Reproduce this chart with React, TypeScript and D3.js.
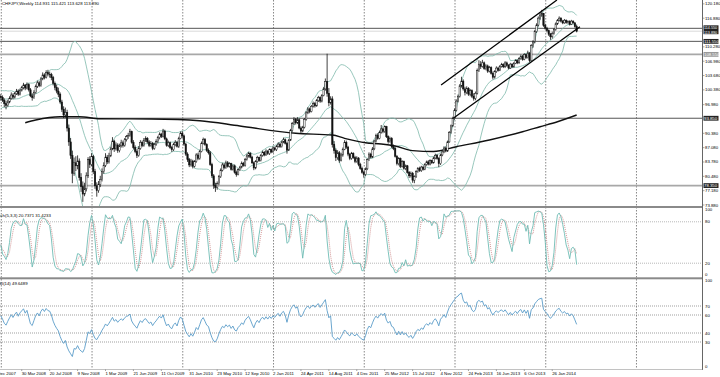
import React from 'react';
import * as d3 from 'd3';

const W = 720;
const H = 377;

// ---------- DATA (CHFJPY weekly) ----------
const symbolTitle = 'CHFJPY,Weekly  114.931 115.421 113.628 113.890';
const stochTitle = 'Stoch(5,3,3) 20.7371 31.4233';
const rsiTitle = 'RSI(14) 49.6489';
const firstBarDate = '2008-01-06';

// closes before the first visible bar (needed to warm up Bollinger / RSI)
const priorCloses = [96.0, 96.8, 97.3, 96.5, 97.8, 98.9, 99.6, 100.2, 99.4, 98.7, 97.4, 96.9, 97.6, 98.3, 97.9, 98.8, 99.2, 98.5, 98.9];
const firstOpen = 98.9;

const closes = [
  98.6, 98.0, 97.2, 96.8, 97.6, 98.4, 99.2, 98.7, 99.5, 100.1,
  99.4, 100.3, 100.9, 101.5, 100.8, 101.6, 100.4, 99.0, 98.6, 99.8,
  101.2, 102.0, 101.4, 102.9, 103.8, 103.3, 104.4, 104.0, 103.9, 103.2,
  101.9, 100.9, 100.1, 99.4, 97.6, 95.9, 94.6, 95.2, 91.6, 88.4,
  85.3, 81.2, 83.6, 82.9, 84.0, 80.2, 78.1, 76.4, 77.6, 80.6,
  84.3, 83.2, 85.0, 81.6, 78.3, 77.2, 78.6, 79.8, 81.6, 83.0,
  84.9, 83.8, 85.2, 86.8, 88.6, 86.8, 87.7, 86.4, 87.5, 88.2,
  87.6, 88.9, 89.6, 89.9, 90.8, 88.3, 87.1, 86.2, 85.3, 86.9,
  88.3, 87.6, 88.8, 89.2, 88.4, 87.6, 88.1, 86.9, 87.8, 88.5,
  89.4, 90.2, 89.7, 90.9, 89.1, 87.6, 88.2, 87.1, 86.6, 87.8,
  88.3, 87.4, 89.2, 90.4, 89.8, 87.9, 85.6, 84.3, 83.1, 84.0,
  82.8, 83.9, 85.4, 84.6, 86.2, 88.1, 89.0, 87.8, 86.4, 85.9,
  83.2, 80.6, 78.4, 77.9, 78.8, 80.4, 81.9, 83.1, 82.5, 83.6,
  82.8, 83.4, 82.1, 82.9, 81.4, 80.9, 82.0, 82.6, 83.5, 83.0,
  84.4, 85.2, 85.8, 84.9, 83.6, 82.4, 83.9, 84.8, 84.1, 85.3,
  86.0, 85.4, 86.3, 85.7, 86.6, 86.1, 87.0, 86.6, 87.4, 87.9,
  87.3, 88.4, 88.9, 88.1, 86.5, 88.8, 91.0, 92.6, 93.6, 92.8,
  93.5, 91.6, 90.9, 91.8, 93.6, 95.1, 96.0, 95.4, 96.6, 97.2,
  96.7, 97.9, 98.6, 97.8, 99.1, 100.6, 102.3, 99.6, 97.4, 98.3,
  87.8, 86.4, 84.8, 85.9, 84.2, 85.4, 86.7, 88.3, 87.2, 85.6,
  84.6, 85.8, 84.8, 83.9, 84.7, 83.2, 82.3, 81.4, 80.9, 82.2,
  84.3, 85.6, 84.9, 86.8, 88.6, 89.9, 89.2, 90.6, 91.4, 90.8,
  91.9, 89.6, 88.5, 89.2, 87.3, 86.9, 85.1, 83.4, 84.6, 82.8,
  83.9, 82.3, 82.9, 81.4, 80.6, 81.2, 79.6, 80.4, 81.6, 82.3,
  81.8, 82.6, 82.1, 83.2, 83.8, 83.3, 84.1, 83.6, 84.7, 85.3,
  84.6, 83.4, 85.4, 86.1, 87.0, 86.3, 88.4, 90.6, 92.1, 93.8,
  95.7, 97.8, 98.9, 101.3, 102.4, 100.6, 99.8, 100.7, 99.4, 100.2,
  98.9, 98.4, 99.6, 104.8, 106.3, 105.8, 106.6, 105.3, 105.9, 104.7,
  105.5, 104.2, 103.3, 104.6, 105.4, 104.9, 105.8, 106.2, 105.7, 106.6,
  106.0, 105.4, 106.3, 105.7, 106.5, 107.1, 106.6, 107.6, 108.1, 107.4,
  108.5, 107.8, 108.9, 107.1, 110.6, 111.4, 113.8, 115.3, 116.9, 117.6,
  118.0, 115.2, 114.6, 114.0, 113.2, 112.6, 113.4, 114.3, 115.6, 116.4,
  116.9, 116.2, 115.8, 116.4, 115.9, 116.1, 115.5, 116.2, 115.8, 114.931, 113.89,
];

const highs = [
  99.4, 99.1, 98.4, 97.9, 98.1, 98.9, 99.8, 99.6, 99.9, 100.6,
  100.5, 100.7, 101.3, 102.0, 101.7, 102.1, 101.9, 100.8, 99.6, 100.3,
  101.6, 102.5, 102.4, 103.3, 104.4, 104.2, 104.9, 105.0, 104.6, 104.3,
  103.6, 102.3, 101.6, 100.9, 99.8, 98.1, 96.6, 96.3, 95.8, 92.4,
  89.3, 86.4, 84.8, 85.1, 85.3, 84.6, 81.2, 79.3, 79.0, 81.4,
  84.9, 85.1, 85.8, 85.4, 82.2, 79.1, 79.4, 80.6, 82.3, 83.7,
  85.8, 85.4, 85.9, 87.3, 89.5, 88.9, 88.3, 88.1, 88.0, 88.9,
  88.7, 89.3, 90.0, 90.5, 91.4, 91.0, 88.8, 87.6, 86.7, 87.4,
  88.8, 88.7, 89.3, 89.7, 89.5, 88.8, 88.6, 88.4, 88.2, 89.0,
  89.8, 90.6, 90.5, 91.4, 91.2, 89.4, 88.7, 88.5, 87.5, 88.2,
  88.8, 88.6, 89.6, 90.8, 90.9, 90.1, 88.2, 86.0, 84.7, 84.5,
  84.3, 84.2, 85.8, 85.9, 86.6, 88.5, 89.4, 89.3, 88.1, 86.9,
  86.3, 83.6, 81.0, 79.0, 79.3, 80.8, 82.3, 83.6, 83.5, 84.1,
  84.0, 83.7, 83.6, 83.2, 83.2, 81.8, 82.3, 82.9, 83.9, 83.8,
  84.7, 85.6, 86.1, 86.0, 85.2, 83.9, 84.2, 85.2, 85.0, 85.6,
  86.4, 86.3, 86.7, 86.5, 86.9, 86.9, 87.4, 87.3, 87.7, 88.3,
  88.2, 88.7, 89.4, 89.2, 88.4, 89.1, 91.4, 93.0, 94.1, 93.9,
  94.1, 93.8, 92.0, 92.1, 93.9, 95.5, 96.4, 96.3, 96.9, 97.7,
  97.6, 98.3, 99.0, 98.9, 99.4, 101.0, 103.0, 108.7, 100.8, 98.9,
  98.9, 88.6, 86.9, 86.5, 86.3, 85.9, 87.1, 88.8, 88.7, 87.5,
  85.9, 86.1, 86.0, 85.2, 85.1, 84.9, 83.6, 82.7, 81.8, 82.5,
  84.6, 86.0, 85.9, 87.2, 88.9, 90.3, 90.4, 91.0, 92.3, 91.7,
  92.2, 92.1, 89.9, 89.6, 89.5, 87.8, 87.2, 85.4, 84.9, 84.8,
  84.2, 84.1, 83.2, 83.1, 81.7, 81.6, 81.5, 80.7, 81.9, 82.6,
  82.7, 82.9, 82.9, 83.5, 84.1, 84.2, 84.4, 84.3, 85.0, 85.7,
  85.6, 84.9, 85.7, 86.4, 87.4, 87.3, 88.7, 90.9, 92.4, 94.2,
  96.1, 98.2, 99.3, 101.7, 103.4, 102.8, 101.1, 101.2, 101.0, 100.6,
  100.5, 99.6, 100.0, 105.3, 107.2, 107.0, 107.3, 106.9, 106.3, 106.2,
  105.9, 105.8, 104.6, 104.9, 105.8, 105.7, 106.1, 106.6, 106.5, 107.0,
  106.9, 106.3, 106.6, 106.5, 106.8, 107.4, 107.4, 107.9, 108.5, 108.4,
  108.8, 108.7, 109.4, 109.0, 110.9, 111.8, 114.2, 115.7, 117.3, 118.3,
  118.8, 118.1, 115.6, 114.9, 114.3, 113.5, 113.8, 114.6, 115.9, 116.7,
  117.3, 117.1, 116.5, 116.7, 116.6, 116.4, 116.4, 116.5, 116.4, 116.0, 115.421,
];

const lows = [
  97.9, 97.6, 96.4, 95.9, 96.5, 97.3, 98.1, 98.2, 98.4, 99.2,
  99.0, 99.1, 100.0, 100.5, 100.3, 100.5, 100.0, 98.7, 97.9, 98.3,
  99.5, 100.8, 101.0, 101.1, 102.6, 102.8, 103.0, 103.5, 103.2, 102.6,
  101.4, 100.3, 99.6, 98.7, 97.2, 95.3, 93.9, 94.0, 90.8, 87.5,
  84.5, 78.9, 80.6, 81.7, 82.1, 79.5, 76.9, 74.6, 75.9, 77.0,
  80.1, 82.4, 82.8, 81.0, 77.6, 75.8, 76.7, 78.0, 79.3, 81.1,
  82.6, 83.3, 83.4, 84.9, 86.5, 86.1, 86.4, 85.9, 86.0, 87.1,
  87.1, 87.3, 88.5, 89.1, 89.6, 88.0, 86.7, 85.8, 84.7, 85.0,
  86.6, 87.2, 87.3, 88.4, 88.0, 87.2, 87.3, 86.5, 86.6, 87.5,
  88.1, 89.0, 89.3, 89.4, 88.8, 87.3, 87.2, 86.8, 86.1, 86.3,
  87.4, 87.1, 87.0, 89.0, 89.3, 87.5, 85.2, 83.8, 82.6, 82.7,
  82.3, 82.5, 83.6, 84.2, 84.3, 86.0, 87.8, 87.5, 86.1, 85.5,
  82.9, 80.1, 77.6, 76.9, 77.4, 78.5, 80.1, 81.6, 82.1, 82.2,
  82.5, 82.5, 81.8, 81.8, 81.1, 80.4, 80.7, 81.7, 82.3, 82.7,
  82.7, 84.1, 84.8, 84.6, 83.3, 81.9, 82.1, 83.6, 83.8, 83.9,
  85.0, 85.1, 85.2, 85.4, 85.4, 85.8, 85.9, 86.3, 86.3, 87.1,
  87.0, 87.1, 88.1, 87.8, 85.7, 86.3, 88.6, 90.7, 92.3, 92.4,
  92.5, 91.3, 90.3, 90.6, 91.5, 93.3, 94.8, 95.0, 95.2, 96.3,
  96.3, 96.5, 97.6, 97.4, 97.5, 98.9, 100.2, 98.8, 96.6, 97.0,
  87.1, 85.7, 84.0, 84.3, 83.6, 83.9, 85.0, 86.5, 86.8, 85.1,
  84.2, 84.3, 84.5, 83.5, 83.6, 82.8, 82.0, 81.1, 80.2, 80.6,
  81.9, 84.0, 84.6, 84.7, 86.5, 88.3, 88.9, 89.0, 90.3, 90.4,
  90.5, 89.3, 88.0, 88.2, 87.0, 86.5, 84.8, 83.0, 83.0, 82.4,
  82.5, 82.0, 81.9, 81.1, 80.1, 80.2, 79.0, 78.9, 80.1, 81.3,
  81.5, 81.5, 81.8, 81.9, 82.9, 83.0, 83.0, 83.3, 83.4, 84.4,
  84.3, 82.6, 83.1, 85.1, 85.8, 86.0, 86.1, 88.2, 90.3, 91.8,
  93.5, 95.4, 97.5, 98.6, 100.9, 100.2, 99.1, 99.4, 99.0, 98.9,
  98.5, 97.9, 98.0, 99.3, 104.5, 105.2, 105.5, 105.0, 104.9, 104.3,
  104.4, 103.9, 102.8, 103.0, 104.3, 104.6, 104.7, 105.5, 105.4, 105.4,
  105.7, 105.1, 105.2, 105.4, 105.5, 106.3, 106.3, 106.4, 107.3, 107.1,
  107.2, 107.5, 107.6, 106.8, 106.9, 110.1, 111.1, 113.5, 115.0, 116.5,
  117.2, 114.9, 114.2, 113.6, 112.8, 111.9, 112.2, 113.1, 114.0, 115.3,
  116.1, 115.9, 115.5, 115.6, 115.6, 115.6, 115.2, 115.3, 115.6, 114.7, 113.628,
];

// long moving average (thick black), sampled along the bars
const maBars = [14, 20, 34, 45, 57, 86, 114, 137, 169, 190, 197, 209, 218, 226, 236, 248, 261, 280, 299, 309, 319, 330];
const maValues = [92.82, 93.44, 94.2, 94.2, 93.74, 93.67, 93.28, 92.06, 90.38, 89.99, 89.23, 88.22, 87.92, 87.46, 86.4, 86.2, 87.3, 88.84, 90.75, 91.9, 93.05, 94.6];

// channel lines: [bar, price]
const channelUpper = [[252.3, 101.5], [318.7, 121.06]];
const channelLower = [[259.3, 93.83], [331.9, 114.92]];

// horizontal levels
const levelPrices = [114.55, 111.55, 108.55, 93.85, 78.35];
const levelKinds = ['dark', 'dark', 'gray', 'dark', 'gray'];
const bidPrice = 113.89;

// price-axis labels
const priceTicks = [120.18, 116.88, 110.28, 106.98, 103.68, 100.38, 96.98, 90.38, 87.08, 83.78, 80.48, 77.18, 73.88];
const dateLabelDates = [
  '2007-12-09', '2008-03-30', '2008-07-20', '2008-11-09', '2009-03-01', '2009-06-21', '2009-10-11',
  '2010-01-31', '2010-05-23', '2010-09-12', '2011-01-02', '2011-04-24', '2011-08-14', '2011-12-04',
  '2012-03-25', '2012-07-15', '2012-11-04', '2013-02-24', '2013-06-16', '2013-10-06', '2014-01-26',
];
const stochLevels = [80, 20];
const stochLabels = [100, 80, 20, 0];
const rsiLevels = [70, 60, 40, 30];
const rsiLabels = [100, 70, 60, 40, 30, 0];

// ---------- helpers ----------
const N = closes.length;
const opens = closes.map((c, i) => (i === 0 ? firstOpen : closes[i - 1]));
const base = new Date(firstBarDate + 'T00:00:00Z').getTime();
const barOf = (s: string) => Math.round((new Date(s + 'T00:00:00Z').getTime() - base) / (7 * 864e5));
const fmtDate = d3.utcFormat('%-d %b %Y');

const x = d3.scaleLinear().domain([0, N - 1]).range([0.8, 576.65]);
const y = d3.scaleLinear().domain([73.88, 120.08]).range([205, 4.3]);
const yS = d3.scaleLinear().domain([0, 100]).range([277, 208]);
const yR = d3.scaleLinear().domain([0, 100]).range([369, 279]);

// Bollinger (20, 2)
const allC = [...priorCloses, ...closes];
const P = priorCloses.length;
const bands = closes.map((_, i) => {
  const j = i + P;
  const win = allC.slice(Math.max(0, j - 19), j + 1);
  const m = d3.mean(win) as number;
  const sd = Math.sqrt(d3.mean(win.map((v) => (v - m) * (v - m))) as number);
  return { i, m, up: m + 2 * sd, lo: m - 2 * sd };
});

// RSI 14 (Wilder)
const rsi: { i: number; v: number }[] = [];
{
  let ag = 0, al = 0;
  for (let j = 1; j < allC.length; j++) {
    const d = allC[j] - allC[j - 1];
    const g = Math.max(d, 0), l = Math.max(-d, 0);
    if (j <= 14) { ag += g / 14; al += l / 14; }
    else { ag = (ag * 13 + g) / 14; al = (al * 13 + l) / 14; }
    const i = j - P;
    if (i >= 0) rsi.push({ i, v: al === 0 ? 100 : 100 - 100 / (1 + ag / al) });
  }
}

// Stochastic (5,3,3)
const kArr: number[] = [];
const kLine: { i: number; v: number }[] = [];
const dLine: { i: number; v: number }[] = [];
{
  const num: number[] = [], den: number[] = [];
  for (let i = 0; i < N; i++) {
    const s = Math.max(0, i - 4);
    const hh = d3.max(highs.slice(s, i + 1)) as number;
    const ll = d3.min(lows.slice(s, i + 1)) as number;
    num.push(closes[i] - ll); den.push(hh - ll);
    const s2 = Math.max(0, i - 2);
    const sn = d3.sum(num.slice(s2, i + 1)), sd = d3.sum(den.slice(s2, i + 1));
    const k = sd === 0 ? 50 : (100 * sn) / sd;
    kArr.push(k);
    kLine.push({ i, v: k });
    dLine.push({ i, v: d3.mean(kArr.slice(Math.max(0, i - 2), i + 1)) as number });
  }
}

const lineP = d3.line<{ i: number; v: number }>().x((d) => x(d.i)).y((d) => y(d.v));
const lineS = d3.line<{ i: number; v: number }>().x((d) => x(d.i)).y((d) => yS(d.v));
const lineR = d3.line<{ i: number; v: number }>().x((d) => x(d.i)).y((d) => yR(d.v));
const maLine = d3.line<number>().x((b) => x(b)).y((_, k) => y(maValues[k])).curve(d3.curveMonotoneX);

const AXIS_X = 702.5;
const FONT = 'Liberation Sans, Arial, sans-serif';
const FS = 4.3;
const gridBars = d3.range(0, 400, 52);

export default function App() {
  const bbUp = bands.map((b) => ({ i: b.i, v: b.up }));
  const bbMid = bands.map((b) => ({ i: b.i, v: b.m }));
  const bbLo = bands.map((b) => ({ i: b.i, v: b.lo }));
  // combined box for the top level label and the bid label (they sit on top of each other)
  const yTopA = y(levelPrices[0]);
  const yTopB = y(bidPrice);
  return (
    <svg width={W} height={H} style={{ position: 'fixed', left: 0, top: 0, background: '#fff' }} fontFamily={FONT}>
      <defs>
        <clipPath id="cpMain"><rect x={0} y={0} width={AXIS_X} height={206} /></clipPath>
        <clipPath id="cpSto"><rect x={0} y={208} width={AXIS_X} height={69} /></clipPath>
        <clipPath id="cpRsi"><rect x={0} y={279.5} width={AXIS_X} height={90} /></clipPath>
      </defs>
      <rect x={0} y={0} width={W} height={H} fill="#fff" />

      {/* vertical grid */}
      {gridBars.filter((b) => x(b) < AXIS_X).map((b) => (
        <line key={'g' + b} x1={x(b) + 0.5} x2={x(b) + 0.5} y1={0} y2={369} stroke="#555" strokeWidth={0.7} strokeDasharray="1.5,1.5" />
      ))}

      {/* ---- main panel ---- */}
      <g clipPath="url(#cpMain)">
        {levelPrices.map((p, k) => (
          <line key={'lv' + k} x1={0} x2={AXIS_X} y1={y(p)} y2={y(p)}
            stroke={levelKinds[k] === 'dark' ? '#555' : '#a8a8a8'} strokeWidth={levelKinds[k] === 'dark' ? 1 : 1.8} />
        ))}
        <line x1={0} x2={AXIS_X} y1={y(bidPrice)} y2={y(bidPrice)} stroke="#d0d0d0" strokeWidth={0.8} />
        <path d={lineP(bbUp) || ''} fill="none" stroke="#7db9ab" strokeWidth={0.8} />
        <path d={lineP(bbMid) || ''} fill="none" stroke="#7db9ab" strokeWidth={0.8} />
        <path d={lineP(bbLo) || ''} fill="none" stroke="#7db9ab" strokeWidth={0.8} />
        <path d={maLine(maBars) || ''} fill="none" stroke="#111" strokeWidth={1.4} />
        {closes.map((c, i) => {
          const o = opens[i];
          const cx = x(i);
          const top = y(Math.max(o, c));
          const bot = y(Math.min(o, c));
          const bull = c >= o;
          return (
            <g key={'c' + i}>
              <line x1={cx} x2={cx} y1={y(highs[i])} y2={y(lows[i])} stroke="#111" strokeWidth={0.8} />
              <rect x={cx - 0.7} y={top} width={1.4} height={Math.max(0.5, bot - top)} fill={bull ? '#fff' : '#111'} stroke="#111" strokeWidth={0.5} />
            </g>
          );
        })}
        {[channelUpper, channelLower].map((seg, k) => (
          <line key={'ch' + k} x1={x(seg[0][0])} y1={y(seg[0][1])} x2={x(seg[1][0])} y2={y(seg[1][1])} stroke="#000" strokeWidth={1.3} />
        ))}
      </g>
      <text x={2} y={4.6} fontSize={FS} fill="#000">{symbolTitle}</text>

      {/* ---- stochastic panel ---- */}
      <g clipPath="url(#cpSto)">
        {stochLevels.map((v) => (
          <line key={'sl' + v} x1={0} x2={AXIS_X} y1={yS(v)} y2={yS(v)} stroke="#999" strokeWidth={0.7} strokeDasharray="1,1" />
        ))}
        <path d={lineS(dLine) || ''} fill="none" stroke="#c97f7f" strokeWidth={0.8} strokeDasharray="1,1" />
        <path d={lineS(kLine) || ''} fill="none" stroke="#6fbcb4" strokeWidth={0.9} />
      </g>
      <text x={-6} y={217} fontSize={FS} fill="#000">{stochTitle}</text>

      {/* ---- RSI panel ---- */}
      <g clipPath="url(#cpRsi)">
        {rsiLevels.map((v) => (
          <line key={'rl' + v} x1={0} x2={AXIS_X} y1={yR(v)} y2={yR(v)} stroke="#777" strokeWidth={0.7} strokeDasharray="1,1" />
        ))}
        <path d={lineR(rsi) || ''} fill="none" stroke="#5a9cc8" strokeWidth={0.9} />
      </g>
      <text x={-4} y={284.5} fontSize={FS} fill="#000">{rsiTitle}</text>

      {/* separators */}
      <rect x={0} y={206} width={AXIS_X} height={2} fill="#8a8a8a" />
      <rect x={0} y={277.3} width={AXIS_X} height={2} fill="#8a8a8a" />

      {/* right axis */}
      <line x1={AXIS_X} x2={AXIS_X} y1={0} y2={370} stroke="#666" strokeWidth={1} />
      <line x1={0} x2={AXIS_X} y1={369.5} y2={369.5} stroke="#999" strokeWidth={0.6} />
      {priceTicks.map((p) => (
        <g key={'pt' + p}>
          <line x1={AXIS_X} x2={AXIS_X + 2} y1={y(p)} y2={y(p)} stroke="#666" strokeWidth={0.6} />
          <text x={705} y={y(p) + 1.5} fontSize={FS} fill="#000">{p.toFixed(3)}</text>
        </g>
      ))}
      {/* top pair: level + bid in one dark box */}
      <rect x={AXIS_X + 1} y={yTopA - 3} width={15} height={yTopB - yTopA + 6} fill="#222" />
      <text x={704} y={yTopA + 0.4} fontSize={3.7} fill="#fff">{levelPrices[0].toFixed(3)}</text>
      <text x={704} y={yTopB + 2.6} fontSize={3.7} fill="#fff">{bidPrice.toFixed(3)}</text>
      {levelPrices.slice(1).map((p, k) => (
        <g key={'lb' + k}>
          <rect x={AXIS_X + 1} y={y(p) - 2.4} width={15} height={4.8} fill={levelKinds[k + 1] === 'dark' ? '#222' : (p > 100 ? '#999' : '#222')} />
          <text x={704} y={y(p) + 1.5} fontSize={FS} fill="#fff">{p.toFixed(3)}</text>
        </g>
      ))}

      {stochLabels.map((v) => (
        <text key={'sv' + v} x={705} y={yS(v) + (v === 100 ? 3 : v === 0 ? -1.5 : 1.5)} fontSize={FS} fill="#000">{v}</text>
      ))}
      {rsiLabels.map((v) => (
        <text key={'rv' + v} x={705} y={yR(v) + (v === 100 ? 3 : v === 0 ? -1.5 : 1.5)} fontSize={FS} fill="#000">{v}</text>
      ))}

      {/* date axis */}
      {dateLabelDates.map((s) => {
        const b = barOf(s);
        return (
          <g key={'d' + s}>
            <line x1={x(b)} x2={x(b)} y1={369.5} y2={371} stroke="#666" strokeWidth={0.6} />
            <text x={x(b)} y={375} fontSize={FS} fill="#000">{fmtDate(new Date(s + 'T00:00:00Z'))}</text>
          </g>
        );
      })}
    </svg>
  );
}
